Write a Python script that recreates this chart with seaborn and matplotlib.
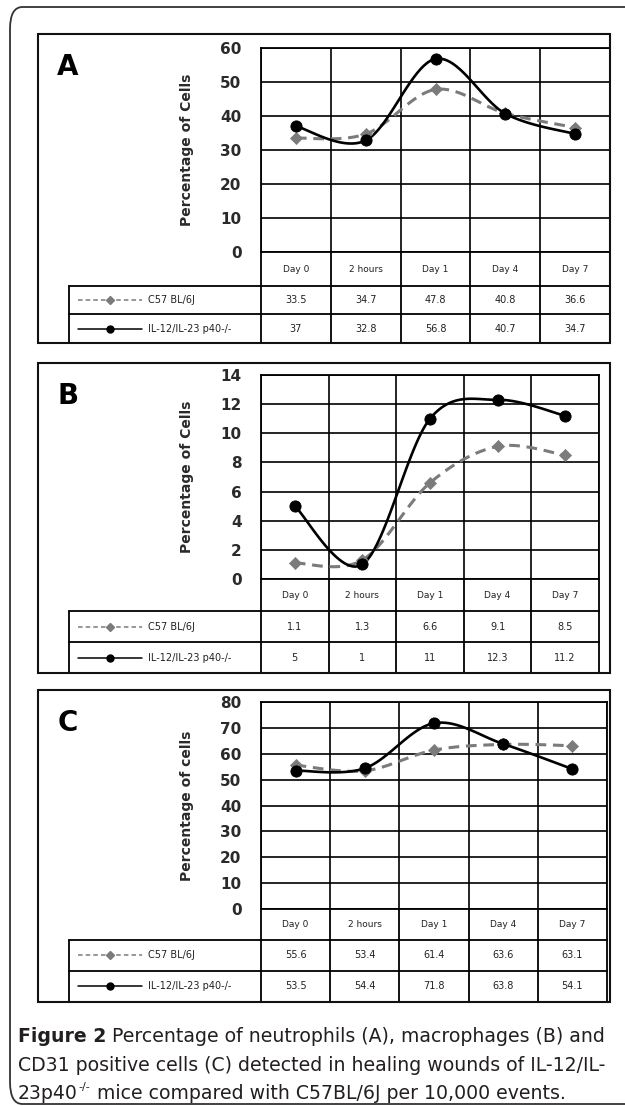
import numpy as np
import matplotlib
matplotlib.use('Agg')
import matplotlib.pyplot as plt
import seaborn as sns
from matplotlib.patches import Rectangle, FancyBboxPatch

sns.set_style('white')
plt.rcParams['font.family'] = ['DejaVu Sans']

## data
times = ['Day 0', '2 hours', 'Day 1', 'Day 4', 'Day 7']
strains = ['C57 BL/6J', 'IL-12/IL-23 p40-/-']

neutro_c57 = [33.5, 34.7, 47.8, 40.8, 36.6]
neutro_ko = [37, 32.8, 56.8, 40.7, 34.7]
macro_c57 = [1.1, 1.3, 6.6, 9.1, 8.5]
macro_ko = [5, 1, 11, 12.3, 11.2]
cd31_c57 = [55.6, 53.4, 61.4, 63.6, 63.1]
cd31_ko = [53.5, 54.4, 71.8, 63.8, 54.1]

letters = ['A', 'B', 'C']
ylabels = ['Percentage of Cells', 'Percentage of Cells', 'Percentage of cells']
ymax = [60, 14, 80]
ystep = [10, 2, 10]

W, H = 625, 1106
fig = plt.figure(figsize=(W / 100, H / 100), dpi=100)

def px(x0, y0, x1, y1):  ## pixel box (top-left origin) -> figure rect
    return [x0 / W, 1 - y1 / H, (x1 - x0) / W, (y1 - y0) / H]

def smooth(xs, ys, n=30):  ## excel style smoothed line through the points
    p = np.column_stack([xs, ys]).astype(float)
    p = np.vstack([p[0], p, p[-1]])
    t = np.linspace(0, 1, n)[:, None]
    out = []
    for i in range(1, len(p) - 2):
        p0, p1, p2, p3 = p[i - 1], p[i], p[i + 1], p[i + 2]
        c1 = p1 + (p2 - p0) / 6
        c2 = p2 - (p3 - p1) / 6
        seg = (1 - t) ** 3 * p1 + 3 * (1 - t) ** 2 * t * c1 + 3 * (1 - t) * t ** 2 * c2 + t ** 3 * p2
        out.append(seg if i == 1 else seg[1:])
    q = np.vstack(out)
    return q[:, 0], q[:, 1]

## outer rounded frame
frame = FancyBboxPatch((10 / W, 1 - 1104 / H), 640 / W, 1097 / H,
                       boxstyle='round,pad=0,rounding_size=0.02', transform=fig.transFigure,
                       fill=False, lw=1.3, ec='#333333')
fig.patches.append(frame)

## layout of each panel: box top, grid top, grid right, grid bottom, row1, row2, box bottom
panels = [
    (34, 48, 610, 252, 286, 314, 343),
    (363, 375, 599, 579, 611, 642, 673),
    (690, 702, 607, 909, 940, 971, 1002),
]
series = [(neutro_c57, neutro_ko), (macro_c57, macro_ko), (cd31_c57, cd31_ko)]
gray = '#7b7b7b'
xpos = np.arange(len(times))

for k, (btop, gtop, gright, gbot, r1, r2, bbot) in enumerate(panels):
    c57, ko = series[k]
    gleft = 261

    fig.patches.append(Rectangle((38 / W, 1 - bbot / H), (610 - 38) / W, (bbot - btop) / H,
                                 transform=fig.transFigure, fill=False, lw=1.5, ec='#111111'))

    ax = fig.add_axes(px(gleft, gtop, gright, gbot))
    sx, sy = smooth(xpos, c57)
    sns.lineplot(x=sx, y=sy, ax=ax, color=gray, lw=2.2, linestyle=(0, (3.5, 2.2)), sort=False, estimator=None)
    sns.scatterplot(x=xpos, y=c57, ax=ax, color=gray, marker='D', s=38, edgecolor=gray, zorder=3)
    sx, sy = smooth(xpos, ko)
    sns.lineplot(x=sx, y=sy, ax=ax, color='black', lw=1.9, sort=False, estimator=None)
    sns.scatterplot(x=xpos, y=ko, ax=ax, color='black', marker='o', s=65, edgecolor='black', zorder=4)

    ax.set_xlim(-0.5, len(times) - 0.5)
    ax.set_ylim(0, ymax[k])
    ax.set_xticks(np.arange(-0.5, len(times), 1))
    ax.set_xticklabels([])
    ax.set_yticks(np.arange(0, ymax[k] + 1, ystep[k]))
    ax.set_yticklabels([str(v) for v in np.arange(0, ymax[k] + 1, ystep[k])],
                       fontsize=11, fontweight='bold', color='#2a2a2a')
    ax.tick_params(length=0, pad=14)
    ax.grid(True, color='black', lw=1.2)
    for s in ax.spines.values():
        s.set_color('black')
        s.set_linewidth(1.3)
    ax.set_axisbelow(True)

    fig.text(187 / W, 1 - (gtop + gbot) / 2 / H, ylabels[k], rotation=90, ha='center', va='center',
             fontsize=10, fontweight='bold', color='#2a2a2a')
    fig.text(68 / W, 1 - (btop + 33) / H, letters[k], ha='center', va='center',
             fontsize=20, fontweight='bold', color='black')

    ## data table under the plot
    tax = fig.add_axes(px(38, gbot, 610, bbot))
    tax.set_xlim(38, 610)
    tax.set_ylim(bbot, gbot)
    tax.axis('off')
    edges = [gleft + (gright - gleft) * i / len(times) for i in range(len(times) + 1)]
    for e in edges:
        tax.plot([e, e], [gbot, bbot], color='black', lw=1.3)
    tax.plot([69, 69], [r1, bbot], color='black', lw=1.3)
    tax.plot([69, gright], [r1, r1], color='black', lw=1.3)
    tax.plot([69, gright], [r2, r2], color='black', lw=1.3)
    tax.plot([69, gright], [bbot, bbot], color='black', lw=1.3)
    for i, t in enumerate(times):
        cx = (edges[i] + edges[i + 1]) / 2
        tax.text(cx, (gbot + r1) / 2, t, ha='center', va='center', fontsize=6.5, color='#222222')
        tax.text(cx, (r1 + r2) / 2, f'{c57[i]:g}', ha='center', va='center', fontsize=7, color='#222222')
        tax.text(cx, (r2 + bbot) / 2, f'{ko[i]:g}', ha='center', va='center', fontsize=7, color='#222222')
    ym = (r1 + r2) / 2
    tax.plot([78, 142], [ym, ym], color=gray, lw=1.1, linestyle=(0, (3, 2)))
    tax.plot([110], [ym], marker='D', ms=4, color=gray)
    tax.text(148, ym, strains[0], ha='left', va='center', fontsize=7, color='#222222')
    ym = (r2 + bbot) / 2
    tax.plot([78, 142], [ym, ym], color='black', lw=1.1)
    tax.plot([110], [ym], marker='o', ms=5, color='black')
    tax.text(148, ym, strains[1], ha='left', va='center', fontsize=7, color='#222222')

## caption
cap_color = '#231f20'
cap_size = 13.6
r = fig.canvas.get_renderer()

def put(x, y, s, **kw):  ## place text at pixel position, return its right edge in pixels
    t = fig.text(x / W, 1 - y / H, s, color=cap_color, ha='left', va='baseline', **kw)
    return t.get_window_extent(renderer=r).x1

x = put(18, 1042, 'Figure 2', fontsize=cap_size, fontweight='bold')
put(x, 1042, ' Percentage of neutrophils (A), macrophages (B) and', fontsize=cap_size)
put(18, 1071, 'CD31 positive cells (C) detected in healing wounds of IL-12/IL-', fontsize=cap_size)
x = put(18, 1099, '23p40', fontsize=cap_size)
x = put(x + 1, 1090, '-/-', fontsize=8)
put(x, 1099, ' mice compared with C57BL/6J per 10,000 events.', fontsize=cap_size)

fig.savefig('out.png', dpi=100)
